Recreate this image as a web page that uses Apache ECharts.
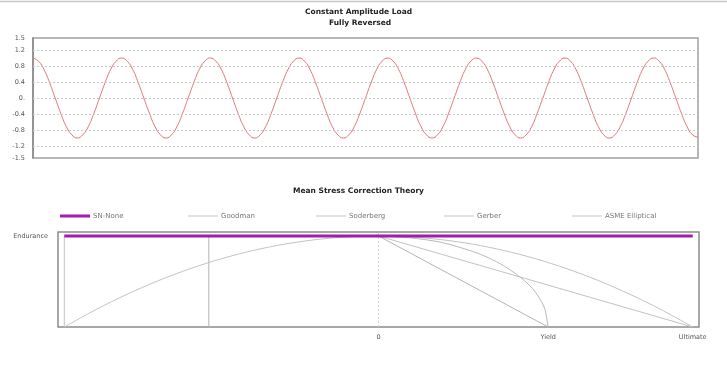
<!DOCTYPE html>
<html><head><meta charset="utf-8">
<script src="https://cdn.jsdelivr.net/npm/echarts@6/dist/echarts.min.js"></script>
<style>html,body{margin:0;padding:0;background:#fff}#c{width:727px;height:374px}</style>
</head><body><div id="c"></div>
<script>
// ---- Top chart: constant amplitude load (values read at 1/16-cycle steps) ----
const loadValues = [
  1, 0.92, 0.71, 0.38, 0, -0.38, -0.71, -0.92, -1, -0.92, -0.71, -0.38, 0, 0.38, 0.71, 0.92,
  1, 0.92, 0.71, 0.38, 0, -0.38, -0.71, -0.92, -1, -0.92, -0.71, -0.38, 0, 0.38, 0.71, 0.92,
  1, 0.92, 0.71, 0.38, 0, -0.38, -0.71, -0.92, -1, -0.92, -0.71, -0.38, 0, 0.38, 0.71, 0.92,
  1, 0.92, 0.71, 0.38, 0, -0.38, -0.71, -0.92, -1, -0.92, -0.71, -0.38, 0, 0.38, 0.71, 0.92,
  1, 0.92, 0.71, 0.38, 0, -0.38, -0.71, -0.92, -1, -0.92, -0.71, -0.38, 0, 0.38, 0.71, 0.92,
  1, 0.92, 0.71, 0.38, 0, -0.38, -0.71, -0.92, -1, -0.92, -0.71, -0.38, 0, 0.38, 0.71, 0.92,
  1, 0.92, 0.71, 0.38, 0, -0.38, -0.71, -0.92, -1, -0.92, -0.71, -0.38, 0, 0.38, 0.71, 0.92,
  1, 0.92, 0.71, 0.38, 0, -0.38, -0.71, -0.92, -0.98
];
const loadCategories = loadValues.map((v, i) => String(i));
const loadTickValues = [1.5, 1.2, 0.8, 0.4, 0, -0.4, -0.8, -1.2, -1.5];
const loadTickLabels = ['1.5', '1.2', '0.8', '0.4', '0.', '-0.4', '-0.8', '-1.2', '-1.5'];
const loadGridValues = [1.2, 0.8, 0.4, 0, -0.4, -0.8, -1.2];

// ---- Bottom chart: mean stress correction (mean stress / Ultimate, alt stress / Endurance) ----
const xTickValues = [0, 0.54, 1];
const xTickLabels = ['0', 'Yield', 'Ultimate'];
const yTickValues = [1];
const yTickLabels = ['Endurance'];
const legendNames = ['SN-None', 'Goodman', 'Soderberg', 'Gerber', 'ASME Elliptical'];
const snNone = [[-1, 1], [1, 1]];
const goodman = [[-1, 0], [-1, 1], [0, 1], [1, 0]];
const soderberg = [[-0.54, 0], [-0.54, 1], [0, 1], [0.54, 0]];
const gerber = [
  [-1, 0], [-0.9, 0.19], [-0.8, 0.36], [-0.7, 0.51], [-0.6, 0.64], [-0.5, 0.75],
  [-0.4, 0.84], [-0.3, 0.91], [-0.2, 0.96], [-0.1, 0.99], [0, 1],
  [0.1, 0.99], [0.2, 0.96], [0.3, 0.91], [0.4, 0.84], [0.5, 0.75],
  [0.6, 0.64], [0.7, 0.51], [0.8, 0.36], [0.9, 0.19], [1, 0]
];
const asme = [
  [0, 1], [0.1, 0.98], [0.2, 0.93], [0.3, 0.83], [0.35, 0.76], [0.4, 0.67],
  [0.45, 0.55], [0.48, 0.46], [0.5, 0.38], [0.52, 0.27], [0.53, 0.19], [0.54, 0]
];

const FONT = 'DejaVu Sans';
const PURPLE = '#a21caf';
const GRAY = '#c2c2c2';
const chart = echarts.init(document.getElementById('c'), null, {renderer: 'canvas'});
const legends = legendNames.map((name, i) => ({
  data: [{name: name, icon: 'rect'}],
  left: 60 + 128 * i,
  top: 212.5,
  padding: 0,
  itemWidth: 30,
  itemHeight: i === 0 ? 3 : 1,
  itemGap: 0,
  selectedMode: false,
  textStyle: {fontSize: 7, color: '#777', fontFamily: FONT, padding: [0, 0, 0, -2]}
}));
chart.setOption({
  animation: false,
  backgroundColor: '#fff',
  textStyle: {fontFamily: FONT},
  graphic: [
    {type: 'line', shape: {x1: 0, y1: 1.5, x2: 727, y2: 1.5}, style: {stroke: '#c8c8c8', lineWidth: 1.5}},
    {type: 'text', left: 357 - 52, top: 8, style: {text: 'Constant Amplitude Load', fontSize: 7.5, fontWeight: 'bold', fill: '#222', fontFamily: FONT}},
    {type: 'text', left: 357 - 28, top: 19, style: {text: 'Fully Reversed', fontSize: 7.5, fontWeight: 'bold', fill: '#222', fontFamily: FONT}},
    {type: 'text', left: 357 - 64, top: 187, style: {text: 'Mean Stress Correction Theory', fontSize: 7.5, fontWeight: 'bold', fill: '#222', fontFamily: FONT}}
  ],
  legend: legends,
  grid: [
    {left: 33, right: 29, top: 38, height: 120, show: true, borderColor: '#a0a0a0', borderWidth: 1.5, backgroundColor: 'transparent'},
    {left: 58, right: 28, top: 232, height: 95, show: true, borderColor: '#8c8c8c', borderWidth: 1.5, backgroundColor: 'transparent'}
  ],
  xAxis: [
    {gridIndex: 0, type: 'category', data: loadCategories, boundaryGap: false,
     axisLine: {show: false}, axisTick: {show: false}, axisLabel: {show: false}, splitLine: {show: false}},
    {gridIndex: 1, type: 'value', min: -1.02, max: 1.02,
     axisLine: {show: false}, axisTick: {show: false}, splitLine: {show: false},
     axisLabel: {customValues: xTickValues, fontSize: 6.5, color: '#555', margin: 7,
       formatter: v => { const i = xTickValues.findIndex(t => Math.abs(t - v) < 1e-6); return i >= 0 ? xTickLabels[i] : ''; }}}
  ],
  yAxis: [
    {gridIndex: 0, type: 'value', min: -1.5, max: 1.5,
     axisLine: {show: true, lineStyle: {color: '#888', width: 1.5}}, axisTick: {show: false}, splitLine: {show: false},
     axisLabel: {customValues: loadTickValues, fontSize: 6.5, color: '#555', margin: 8,
       formatter: v => { const i = loadTickValues.findIndex(t => Math.abs(t - v) < 1e-6); return i >= 0 ? loadTickLabels[i] : ''; }}},
    {gridIndex: 1, type: 'value', min: 0, max: 1.044,
     axisLine: {show: false}, axisTick: {show: false}, splitLine: {show: false},
     axisLabel: {customValues: yTickValues, fontSize: 6.5, color: '#555', margin: 10,
       formatter: v => { const i = yTickValues.findIndex(t => Math.abs(t - v) < 1e-6); return i >= 0 ? yTickLabels[i] : ''; }}}
  ],
  series: [
    {type: 'line', xAxisIndex: 0, yAxisIndex: 0, data: loadValues, smooth: 0.5, symbol: 'none',
     lineStyle: {color: '#e37474', width: 1}, z: 3,
     markLine: {silent: true, symbol: 'none', label: {show: false},
       lineStyle: {color: '#c8c8c8', type: [2, 2], width: 1},
       data: loadGridValues.map(v => ({yAxis: v}))}},
    {name: 'Goodman', type: 'line', xAxisIndex: 1, yAxisIndex: 1, data: goodman, symbol: 'none', lineStyle: {color: GRAY, width: 1}, itemStyle: {color: GRAY}, z: 2,
     markLine: {silent: true, symbol: 'none', label: {show: false},
       lineStyle: {color: '#d0d0d0', type: [2, 2], width: 1}, data: [{xAxis: 0}]}},
    {name: 'Soderberg', type: 'line', xAxisIndex: 1, yAxisIndex: 1, data: soderberg, symbol: 'none', lineStyle: {color: '#b4b4b4', width: 1}, itemStyle: {color: GRAY}, z: 2},
    {name: 'Gerber', type: 'line', xAxisIndex: 1, yAxisIndex: 1, data: gerber, smooth: 0.3, symbol: 'none', lineStyle: {color: GRAY, width: 1}, itemStyle: {color: GRAY}, z: 2},
    {name: 'ASME Elliptical', type: 'line', xAxisIndex: 1, yAxisIndex: 1, data: asme, smooth: 0.3, symbol: 'none', lineStyle: {color: '#b8b8b8', width: 1}, itemStyle: {color: GRAY}, z: 2},
    {name: 'SN-None', type: 'line', xAxisIndex: 1, yAxisIndex: 1, data: snNone, symbol: 'none', lineStyle: {color: PURPLE, width: 3}, itemStyle: {color: PURPLE}, z: 5}
  ]
});
</script></body></html>
